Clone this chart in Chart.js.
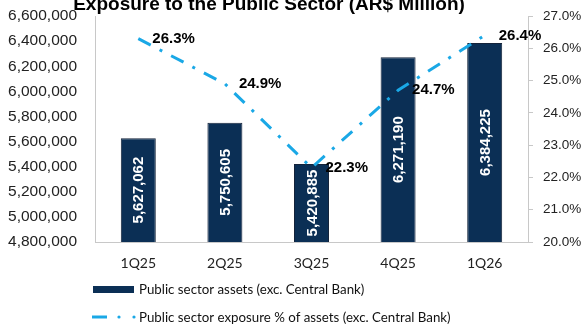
<!DOCTYPE html>
<html>
<head>
<meta charset="utf-8">
<title>Exposure to the Public Sector</title>
<script src="https://cdn.jsdelivr.net/npm/chart.js@4"></script>
<style>
  html, body { margin: 0; padding: 0; background: #fff; }
  #wrap { width: 583px; height: 328px; }
</style>
</head>
<body>
<div id="wrap"><canvas id="chart" width="583" height="328"></canvas></div>
<script>
// Data
const quarters = ['1Q25', '2Q25', '3Q25', '4Q25', '1Q26'];
const publicAssets = [5627062, 5750605, 5420885, 6271190, 6384225];
const exposurePct = [26.3, 24.9, 22.3, 24.7, 26.4];
const assetTicks = [4800000, 5000000, 5200000, 5400000, 5600000, 5800000, 6000000, 6200000, 6400000, 6600000];
const pctTicks = [20, 21, 22, 23, 24, 25, 26, 27];

const titleText = 'Exposure to the Public Sector (AR$ Million)';
const barLabel = 'Public sector assets (exc. Central Bank)';
const lineLabel = 'Public sector exposure % of assets (exc. Central Bank)';

const NAVY = '#0b2f55';
const SKY = '#1aa8e6';
const AXIS = '#c8c8c8';
const ARIAL = '"Liberation Sans", Arial, sans-serif';
const CAL = 'Lato, "Open Sans", sans-serif';

const commas = v => String(v).replace(/\B(?=(\d{3})+(?!\d))/g, ',');

// vertical scales: no extra room above/below for the end labels
const noEndPadding = s => { s.paddingTop = 0; s.paddingBottom = 0; };

// title, value labels and the legend are painted by hand
const decor = {
  id: 'decor',
  afterDatasetsDraw(chart) {
    const ctx = chart.ctx;
    const yScale = chart.scales.y;
    const bars = chart.getDatasetMeta(0).data;
    const pts = chart.getDatasetMeta(1).data;

    ctx.save();
    ctx.font = 'bold 15px ' + ARIAL;
    ctx.fillStyle = '#ffffff';
    ctx.textAlign = 'center';
    ctx.textBaseline = 'middle';
    bars.forEach((bar, i) => {
      const top = yScale.getPixelForValue(publicAssets[i]);
      const base = yScale.getPixelForValue(yScale.min);
      ctx.save();
      ctx.translate(bar.x + 1, (top + base) / 2);
      ctx.rotate(-Math.PI / 2);
      ctx.fillText(commas(publicAssets[i]), 0, 0);
      ctx.restore();
    });

    ctx.fillStyle = '#000';
    ctx.textAlign = 'left';
    pts.forEach((p, i) => {
      ctx.fillText(exposurePct[i].toFixed(1) + '%', p.x + 14, p.y);
    });
    ctx.restore();
  },
  afterDraw(chart) {
    const ctx = chart.ctx;
    ctx.save();
    // title, partly above the top edge
    ctx.font = 'bold 19px ' + ARIAL;
    ctx.fillStyle = '#000';
    ctx.textAlign = 'center';
    ctx.textBaseline = 'alphabetic';
    ctx.fillText(titleText, 269, 10);

    // legend
    ctx.font = '13.3px ' + CAL;
    ctx.textAlign = 'left';
    ctx.textBaseline = 'middle';

    ctx.fillStyle = NAVY;
    ctx.fillRect(93, 286, 41, 7);
    ctx.fillStyle = '#111';
    ctx.fillText(barLabel, 139, 289.5);

    ctx.strokeStyle = SKY;
    ctx.lineWidth = 3;
    ctx.beginPath();
    ctx.moveTo(92, 317);
    ctx.lineTo(107, 317);
    ctx.stroke();
    ctx.fillStyle = SKY;
    [119, 134].forEach(x => {
      ctx.beginPath();
      ctx.arc(x, 317, 1.6, 0, Math.PI * 2);
      ctx.fill();
    });
    ctx.fillStyle = '#111';
    ctx.fillText(lineLabel, 139, 317.5);
    ctx.restore();
  }
};

new Chart(document.getElementById('chart'), {
  data: {
    labels: quarters,
    datasets: [
      {
        type: 'bar',
        label: barLabel,
        data: publicAssets,
        yAxisID: 'y',
        backgroundColor: NAVY,
        borderColor: '#14233a',
        borderWidth: 1,
        categoryPercentage: 1,
        barPercentage: 0.404,
        order: 1
      },
      {
        type: 'line',
        label: lineLabel,
        data: exposurePct,
        yAxisID: 'y1',
        borderColor: SKY,
        borderWidth: 3,
        borderDash: [14, 10, 3, 10],
        pointRadius: 0,
        tension: 0,
        fill: false,
        order: 0
      }
    ]
  },
  options: {
    responsive: false,
    animation: false,
    devicePixelRatio: 1,
    layout: { padding: { top: 16, left: 0, right: 0, bottom: 0 } },
    plugins: {
      legend: { display: false },
      title: { display: false },
      tooltip: { enabled: false }
    },
    scales: {
      x: {
        grid: { display: false, drawTicks: false },
        border: { display: true, color: AXIS, width: 1 },
        ticks: { color: '#222', font: { family: CAL, size: 14 }, padding: 13 },
        afterFit: s => { s.height = 86; }
      },
      y: {
        position: 'left',
        min: 4800000,
        max: 6600000,
        grid: { display: false, drawTicks: false },
        border: { display: true, color: AXIS, width: 1 },
        afterBuildTicks: s => { s.ticks = assetTicks.map(v => ({ value: v })); },
        ticks: {
          color: '#222',
          font: { family: ARIAL, size: 15.5 },
          padding: 18,
          callback: v => commas(v)
        },
        afterFit: s => { s.width = 95; noEndPadding(s); }
      },
      y1: {
        position: 'right',
        min: 20,
        max: 27,
        grid: { display: true, drawOnChartArea: false, drawTicks: true, tickLength: 5, color: AXIS },
        border: { display: true, color: AXIS, width: 1 },
        afterBuildTicks: s => { s.ticks = pctTicks.map(v => ({ value: v })); },
        ticks: {
          color: '#222',
          font: { family: ARIAL, size: 13.5 },
          padding: 10,
          callback: v => v.toFixed(1) + '%'
        },
        afterFit: s => { s.width = 55; noEndPadding(s); }
      }
    }
  },
  plugins: [decor]
});
</script>
</body>
</html>
